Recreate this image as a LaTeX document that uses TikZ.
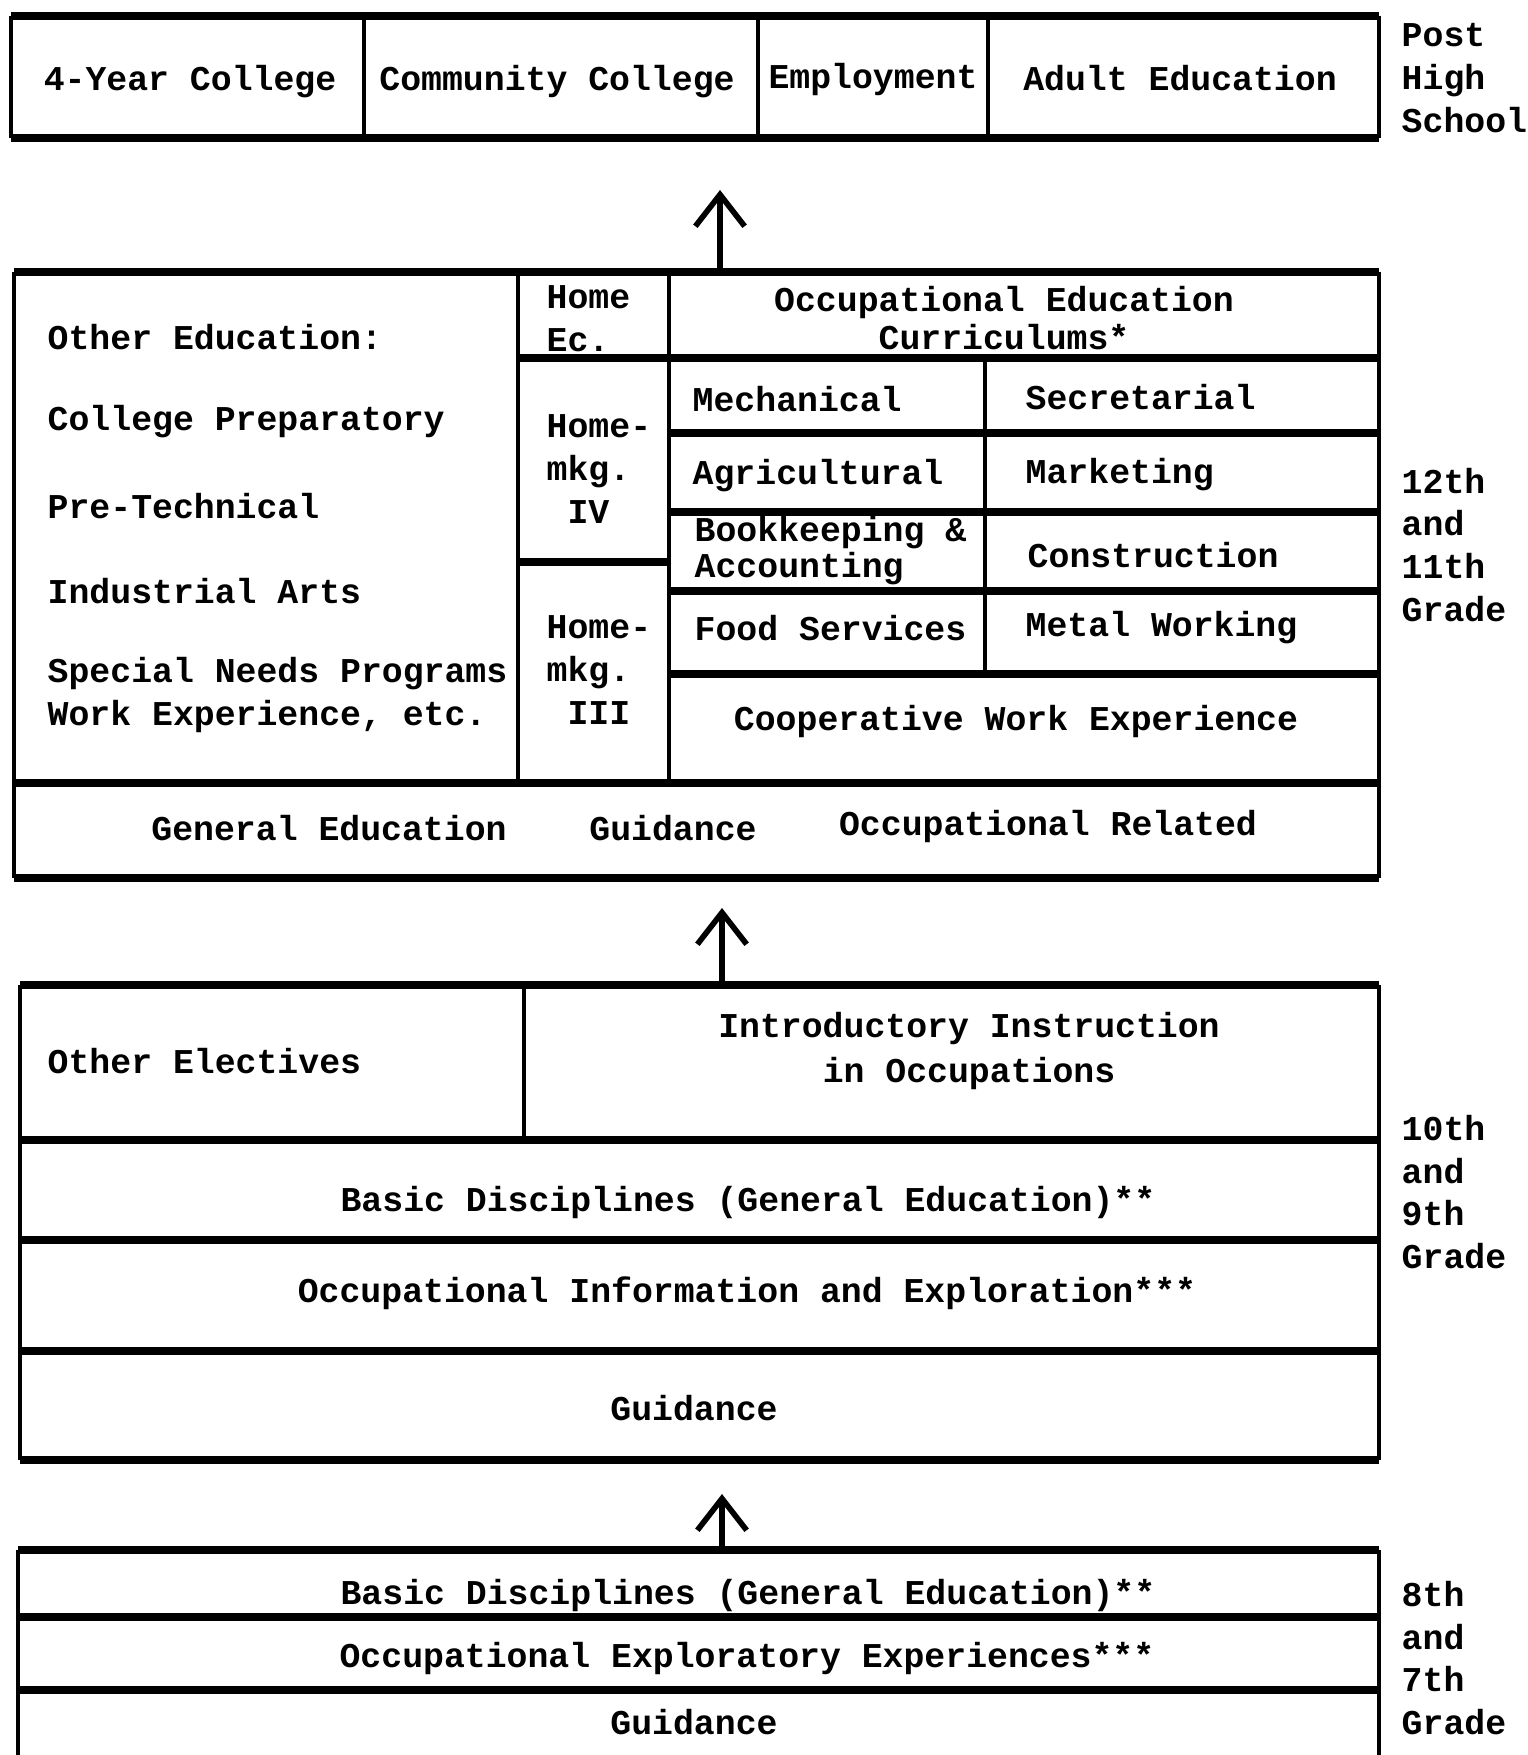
\documentclass[tikz,border=0pt]{standalone}
\usepackage{fontspec}
\setmonofont{Liberation Mono}
\usetikzlibrary{arrows.meta}
\tikzset{
  txt/.style={inner sep=0pt, font=\ttfamily\bfseries\fontsize{9.9}{12.2}\selectfont},
  hln/.style={line width=2.3pt},
  vln/.style={line width=1.3pt},
  uparrow/.style={line width=1.6pt, -{Straight Barb[length=9pt,width=14pt]}}
}
\newcommand{\lbl}[4]{\node[txt,#4] (#1) at (#2) {#3};}

\begin{document}
\begin{tikzpicture}[x=0.01cm,y=-0.01cm]
        \useasboundingbox (0,0) rectangle (1528,1755);

        %post high school box
        \draw[hln] (11,16) -- (1379,16);
        \draw[hln] (11,138) -- (1379,138);
        \draw[vln] (11,16) -- (11,138);
        \draw[vln] (364,16) -- (364,138);
        \draw[vln] (758,16) -- (758,138);
        \draw[vln] (988,16) -- (988,138);
        \draw[vln] (1379,16) -- (1379,138);

        %12th and 11th box
        \draw[hln] (14,272) -- (1379,272);
        \draw[hln] (518,358) -- (1379,358);
        \draw[hln] (669,433) -- (1379,433);
        \draw[hln] (669,512) -- (1379,512);
        \draw[hln] (518,562) -- (669,562);
        \draw[hln] (669,591) -- (1379,591);
        \draw[hln] (669,674) -- (1379,674);
        \draw[hln] (14,783) -- (1379,783);
        \draw[hln] (14,878) -- (1379,878);
        \draw[vln] (14,272) -- (14,878);
        \draw[vln] (518,272) -- (518,783);
        \draw[vln] (669,272) -- (669,783);
        \draw[vln] (985,358) -- (985,674);
        \draw[vln] (1379,272) -- (1379,878);

        %10th and 9th box
        \draw[hln] (20,985) -- (1379,985);
        \draw[hln] (20,1140) -- (1379,1140);
        \draw[hln] (20,1240) -- (1379,1240);
        \draw[hln] (20,1351) -- (1379,1351);
        \draw[hln] (20,1460) -- (1379,1460);
        \draw[vln] (20,985) -- (20,1460);
        \draw[vln] (524,985) -- (524,1140);
        \draw[vln] (1379,985) -- (1379,1460);

        %8th and 7th box
        \draw[hln] (18,1550) -- (1379,1550);
        \draw[hln] (18,1617) -- (1379,1617);
        \draw[hln] (18,1690) -- (1379,1690);
        \draw[vln] (18,1550) -- (18,1760);
        \draw[vln] (1379,1550) -- (1379,1760);

        %arrows
        \coordinate (s1) at (720,272);
        \coordinate (e1) at (720,190);
        \coordinate (s2) at (722,985);
        \coordinate (e2) at (722,908);
        \coordinate (s3) at (722,1550);
        \coordinate (e3) at (722,1494);
        \draw[uparrow] (s1) -- (e1);
        \draw[uparrow] (s2) -- (e2);
        \draw[uparrow] (s3) -- (e3);

        %post high school texts
        \lbl{fouryr}{190,82}{4-Year College}{}
        \lbl{commcol}{557,82}{Community College}{}
        \lbl{employ}{873,80}{Employment}{}
        \lbl{adulted}{1180,78}{Adult Education}{}
        \lbl{posths}{1401,78}{Post\\High\\School}{anchor=west,align=left}

        %12th and 11th texts
        \lbl{othered}{47,337}{Other Education:}{anchor=west}
        \lbl{colprep}{47,422}{College Preparatory}{anchor=west}
        \lbl{pretech}{47,506}{Pre-Technical}{anchor=west}
        \lbl{indarts}{47,591}{Industrial Arts}{anchor=west}
        \lbl{special}{47,695}{Special Needs Programs\\Work Experience, etc.}{anchor=west,align=left}
        \lbl{homeec}{546,319}{Home\\Ec.}{anchor=west,align=left}
        \lbl{homefour}{546,469}{Home-\\mkg.\\\ IV}{anchor=west,align=left}
        \lbl{homethree}{546,670}{Home-\\mkg.\\\ III}{anchor=west,align=left}
        \lbl{occcurr}{1004,318}{Occupational Education\\Curriculums*}{align=center,font=\ttfamily\bfseries\fontsize{9.9}{10.8}\selectfont}
        \lbl{mech}{692,399}{Mechanical}{anchor=west}
        \lbl{secr}{1025,397}{Secretarial}{anchor=west}
        \lbl{agri}{692,476}{Agricultural}{anchor=west}
        \lbl{mark}{1025,475}{Marketing}{anchor=west}
        \lbl{book}{694,551}{Bookkeeping \&\\Accounting}{anchor=west,align=left,font=\ttfamily\bfseries\fontsize{9.9}{8}\selectfont}
        \lbl{constr}{1027,555}{Construction}{anchor=west}
        \lbl{food}{694,628}{Food Services}{anchor=west}
        \lbl{metal}{1025,628}{Metal Working}{anchor=west}
        \lbl{coop}{1016,721}{Cooperative Work Experience}{}
        \lbl{gened}{329,828}{General Education}{}
        \lbl{guidone}{673,828}{Guidance}{}
        \lbl{occrel}{1048,826}{Occupational Related}{}
        \lbl{gradetw}{1401,545}{12th\\and\\11th\\Grade}{anchor=west,align=left}

        %10th and 9th texts
        \lbl{othelec}{47,1061}{Other Electives}{anchor=west}
        \lbl{intro}{969,1051}{Introductory Instruction\\in Occupations}{align=center,font=\ttfamily\bfseries\fontsize{9.9}{12.7}\selectfont}
        \lbl{basicone}{748,1202}{Basic Disciplines (General Education)**}{}
        \lbl{occinfo}{747,1293}{Occupational Information and Exploration***}{}
        \lbl{guidtwo}{694,1408}{Guidance}{}
        \lbl{gradeten}{1401,1192}{10th\\and\\9th\\Grade}{anchor=west,align=left}

        %8th and 7th texts
        \lbl{basictwo}{748,1595}{Basic Disciplines (General Education)**}{}
        \lbl{occexpl}{747,1658}{Occupational Exploratory Experiences***}{}
        \lbl{guidthree}{694,1722}{Guidance}{}
        \lbl{gradeei}{1401,1658}{8th\\and\\7th\\Grade}{anchor=west,align=left}

\end{tikzpicture}
\end{document}
